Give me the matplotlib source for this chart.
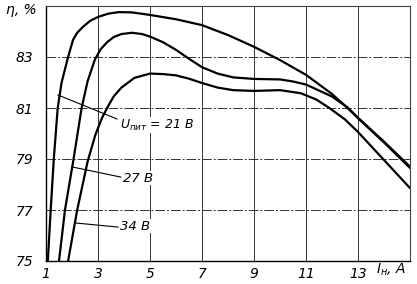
import matplotlib
matplotlib.use("Agg")
import matplotlib.pyplot as plt

# Data
x_21 = [1.07, 1.18, 1.30, 1.45, 1.60, 1.85, 2.04, 2.20, 2.42, 2.70, 3.00, 3.40, 3.80, 4.30,
        5.00, 6.00, 7.00, 8.00, 9.00, 10.0, 11.0, 12.0, 12.6, 13.0, 14.0, 15.0]
y_21 = [75.0, 77.0, 79.0, 81.0, 82.0, 83.0, 83.67, 83.95, 84.18, 84.42, 84.57, 84.70, 84.76, 84.75,
        84.65, 84.48, 84.25, 83.86, 83.40, 82.88, 82.30, 81.55, 81.0, 80.6, 79.65, 78.65]

x_27 = [1.50, 1.73, 2.06, 2.37, 2.60, 2.88, 3.10, 3.35, 3.60, 3.90, 4.30, 4.70, 5.00, 5.50,
        6.00, 6.50, 7.00, 7.60, 8.20, 9.00, 10.0, 10.5, 11.0, 12.0, 12.6, 13.0, 14.0, 15.0]
y_27 = [75.0, 77.0, 79.0, 81.0, 82.05, 82.9, 83.3, 83.58, 83.78, 83.9, 83.95, 83.9, 83.8, 83.58,
        83.28, 82.93, 82.6, 82.35, 82.2, 82.14, 82.12, 82.04, 81.92, 81.45, 81.02, 80.62, 79.68, 78.7]

x_34 = [1.85, 2.20, 2.60, 2.90, 3.15, 3.35, 3.60, 3.90, 4.40, 5.00, 5.50, 6.00, 6.50, 7.00,
        7.60, 8.20, 9.00, 10.0, 10.8, 11.4, 11.9, 12.5, 13.0, 14.0, 15.0]
y_34 = [75.0, 77.0, 78.9, 79.95, 80.6, 81.0, 81.45, 81.8, 82.18, 82.35, 82.33, 82.28, 82.15, 81.98,
        81.8, 81.7, 81.67, 81.7, 81.58, 81.33, 81.0, 80.55, 80.06, 78.96, 77.86]

x_ticks = [1, 3, 5, 7, 9, 11, 13]
y_ticks = [75, 77, 79, 81, 83]

fig = plt.figure(figsize=(4.17, 2.84), dpi=100)
ax = fig.add_axes([46/417, 23/284, 364/417, 255/284])
ax.set_xlim(1, 15)
ax.set_ylim(75, 85)

# grid
for xv in x_ticks[1:]:
    ax.axvline(xv, color='#333333', lw=0.7, zorder=1)
for yv in y_ticks[1:]:
    ax.axhline(yv, color='#333333', lw=0.7, ls=(0, (10, 2, 2, 2)), zorder=1)

for xs, ys in [(x_21, y_21), (x_27, y_27), (x_34, y_34)]:
    ax.plot(xs, ys, color='black', lw=1.6, solid_capstyle='round', solid_joinstyle='round', zorder=3)

ax.set_xticks(x_ticks)
ax.set_yticks(y_ticks)
ax.set_xticklabels([str(v) for v in x_ticks], fontstyle='italic', fontsize=10)
ax.set_yticklabels([str(v) for v in y_ticks], fontstyle='italic', fontsize=10)
ax.tick_params(length=0, pad=9)
ax.tick_params(axis='x', pad=4)
for s in ['left', 'bottom']:
    ax.spines[s].set_linewidth(1.0)
for s in ['top', 'right']:
    ax.spines[s].set_linewidth(0.8)
    ax.spines[s].set_color('#444444')

# leader lines and labels
bbox = dict(facecolor='white', edgecolor='none', pad=0.3)
ax.plot([1.46, 3.73], [81.51, 80.57], color='black', lw=0.8, zorder=2)
ax.text(3.85, 80.33, '$U_{пит}$ = 21 В', fontsize=9, fontstyle='italic', va='center', ha='left',
        bbox=bbox, zorder=4)
ax.plot([2.0, 3.88], [78.69, 78.29], color='black', lw=0.8, zorder=2)
ax.text(3.96, 78.25, '27 В', fontsize=9.5, fontstyle='italic', va='center', ha='left', bbox=bbox, zorder=4)
ax.plot([2.15, 3.77], [76.49, 76.33], color='black', lw=0.8, zorder=2)
ax.text(3.85, 76.37, '34 В', fontsize=9.5, fontstyle='italic', va='center', ha='left', bbox=bbox, zorder=4)

fig.text(6/417, 1 - 10/284, 'η, %', fontsize=10, fontstyle='italic', va='center', ha='left')
fig.text(376/417, 1 - 270/284, '$I_{н}$, A', fontsize=10, fontstyle='italic', va='center', ha='left')

fig.savefig('out.png', dpi=100)
